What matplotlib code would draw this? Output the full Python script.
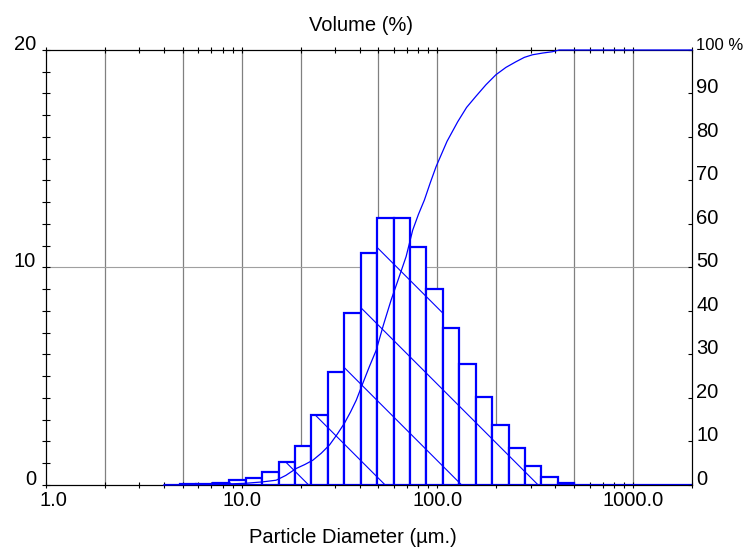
import matplotlib
matplotlib.use('Agg')
import matplotlib.pyplot as plt
from matplotlib.path import Path
from matplotlib.lines import Line2D
from matplotlib.ticker import LogLocator, NullFormatter, MultipleLocator
from matplotlib.transforms import ScaledTranslation

plt.rcParams['font.family'] = ['Liberation Sans', 'DejaVu Sans']
plt.rcParams['font.size'] = 14.5

# size bands (um) and volume in each band (%)
band_edges = [3.99, 4.84, 5.87, 7.13, 8.65, 10.5, 12.74, 15.45, 18.71, 22.7, 27.54,
              33.42, 40.55, 49.2, 59.7, 72.44, 87.9, 106.7, 129.4, 157.0, 190.5,
              231.2, 279.9, 339.6, 412.1, 500.0, 607, 736, 893, 1084, 1315, 1596, 2000]
volume = [0.02, 0.03, 0.05, 0.1, 0.24, 0.33, 0.62, 1.05, 1.78, 3.2,
          5.21, 7.89, 10.65, 12.26, 12.26, 10.96, 9.0, 7.2, 5.55, 4.06,
          2.76, 1.72, 0.89, 0.38, 0.08, 0, 0, 0, 0, 0, 0, 0]

# cumulative undersize curve
cum_size = [3.99, 7.1, 10.5, 12.7, 15.0, 16.8, 19.0, 21.0, 23.1, 25.5, 28.1, 30.7, 33.5,
            36.0, 38.5, 41.6, 45.0, 48.7, 53.0, 58.0, 63.5, 69.2, 74.8, 80.0, 85.8,
            92.0, 98.5, 112, 127, 141, 157, 177, 199, 224, 252, 278, 306, 345, 387,
            419, 2000]
cum_pct = [0, 0.1, 0.4, 0.7, 1.1, 2.2, 3.8, 4.7, 5.7, 7.3, 9.2, 11.6, 14.2,
           16.8, 19.5, 23.4, 27.3, 31.0, 36.8, 42.5, 47.6, 52.5, 58.6, 62.2, 65.5,
           69.5, 73.2, 79.0, 83.5, 86.8, 89.3, 92.0, 94.3, 96.0, 97.3, 98.3, 98.9,
           99.3, 99.6, 100, 100]

x_ticks = [1, 10, 100, 1000]
x_ticklabels = ['1.0', '10.0', '100.0', '1000.0']
grid_x = [2, 5, 10, 20, 50, 100, 200, 500, 1000]
left_ticks = [0, 10, 20]
pct_ticks = [0, 10, 20, 30, 40, 50, 60, 70, 80, 90, 100]
pct_labels = ['0', '10', '20', '30', '40', '50', '60', '70', '80', '90', '100 %']

blue = '#0000ff'

fig = plt.figure(figsize=(7.45, 5.49), dpi=100)
ax = fig.add_axes([0.06174, 0.11658, 0.86711, 0.79235])
ax.set_xscale('log')

for gx in grid_x:
    ax.axvline(gx, color='#808080', lw=0.9, zorder=1)
ax.axhline(10, color='#a0a0a0', lw=0.8, zorder=1)

lefts = band_edges[:-1]
widths = [b - a for a, b in zip(band_edges[:-1], band_edges[1:])]
bars = ax.bar(lefts, volume, width=widths, align='edge', color='white',
              edgecolor=blue, linewidth=1.6, zorder=2)

# sparse diagonal hatch, clipped to the bars
clip = Path.make_compound_path(*[b.get_path().transformed(b.get_patch_transform()) for b in bars])
for k in range(-10, 10):
    c = 5.257 + k * 0.765
    ln = Line2D([0, 7.45], [c, c - 7.45], transform=fig.dpi_scale_trans,
                color=blue, lw=0.8, zorder=3)
    ax.add_artist(ln)
    ln.set_clip_path(clip, ax.transData)

ax.set_xlim(1, 2000)
ax.set_ylim(0, 20)
ax.set_xticks(x_ticks, x_ticklabels)
ax.xaxis.set_minor_locator(LogLocator(base=10, subs=range(2, 10), numticks=20))
ax.xaxis.set_minor_formatter(NullFormatter())
ax.tick_params(axis='x', which='both', direction='inout', length=4, width=0.8,
               top=True, bottom=True, pad=2)
ax.set_yticks(left_ticks, [str(v) for v in left_ticks])
ax.yaxis.set_minor_locator(MultipleLocator(1))
ax.tick_params(axis='y', which='both', direction='inout', length=5.8, width=0.8,
               left=True, right=False, pad=4.3)
for s in ax.spines.values():
    s.set_linewidth(0.8)

ax2 = ax.twinx()
ax2.plot(cum_size, cum_pct, color=blue, lw=0.9, zorder=3, clip_on=False)
ax2.set_ylim(0, 100)
ax2.set_xlim(1, 2000)
ax2.set_yticks(pct_ticks, pct_labels)
ax2.tick_params(axis='y', direction='in', length=3, width=0.8, pad=3.2)
for s in ax2.spines.values():
    s.set_linewidth(0.8)

for lab in ax.get_yticklabels() + ax2.get_yticklabels():
    lab.set_va('baseline')
ax2.get_yticklabels()[-1].set_fontsize(12)
first = ax.get_xticklabels()[0]
first.set_transform(first.get_transform() + ScaledTranslation(0.07, 0, fig.dpi_scale_trans))

fig.text(0.4843, 0.944, 'Volume (%)', ha='center', va='baseline')
fig.text(0.4743, 0.0104, 'Particle Diameter (µm.)', ha='center', va='baseline')

fig.savefig('out.png', dpi=100)
